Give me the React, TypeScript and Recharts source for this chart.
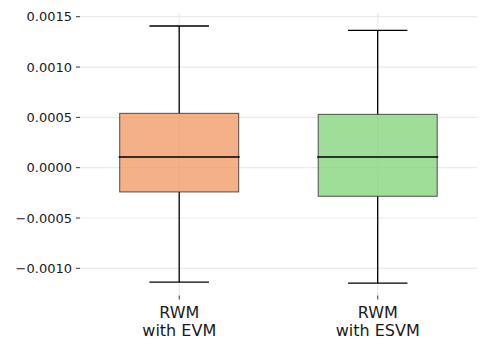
import { ComposedChart, Bar, XAxis, YAxis, CartesianGrid } from 'recharts';

const categories = ['RWM\nwith EVM', 'RWM\nwith ESVM'];
const whiskerLow = [-0.001138, -0.001148];
const quartile1 = [-0.000241, -0.000284];
const medians = [0.000106, 0.000106];
const quartile3 = [0.00054, 0.00053];
const whiskerHigh = [0.001408, 0.001365];
const boxColors = ['#f0975f', '#7ed376'];
const yTicks = [-0.001, -0.0005, 0, 0.0005, 0.001, 0.0015];
const yDomain = [-0.00127, 0.001537];

const data = categories.map((name, i) => ({
  name,
  idx: i,
  range: [whiskerLow[i], whiskerHigh[i]],
  q1: quartile1[i],
  median: medians[i],
  q3: quartile3[i],
}));

const FONT = '"DejaVu Sans", sans-serif';

function fmtY(v: number) {
  return (v < 0 ? '\u2212' : '') + Math.abs(v).toFixed(4);
}

// draws whiskers, box and median from the bar spanning [low, high]
// eslint-disable-next-line @typescript-eslint/no-explicit-any
function BoxShape(props: any) {
  const { x, y, width, height, payload } = props;
  const [lo, hi] = payload.range;
  const top = Math.min(y, y + height);
  const bottom = Math.max(y, y + height);
  const toPx = (v: number) => top + ((hi - v) / (hi - lo)) * (bottom - top);
  const cx = x + width / 2;
  const cap = width / 4;
  const yQ1 = toPx(payload.q1);
  const yQ3 = toPx(payload.q3);
  const yMed = toPx(payload.median);
  return (
    <g>
      <line x1={cx} x2={cx} y1={top} y2={yQ3} stroke="#000" strokeWidth={1.3} />
      <line x1={cx} x2={cx} y1={yQ1} y2={bottom} stroke="#000" strokeWidth={1.3} />
      <line x1={cx - cap} x2={cx + cap} y1={top} y2={top} stroke="#000" strokeWidth={1.3} />
      <line x1={cx - cap} x2={cx + cap} y1={bottom} y2={bottom} stroke="#000" strokeWidth={1.3} />
      <rect
        x={x} y={yQ3} width={width} height={yQ1 - yQ3}
        fill={boxColors[payload.idx]} fillOpacity={0.75}
        stroke="#2a2a2a" strokeOpacity={0.8} strokeWidth={1}
      />
      <line x1={x - 1} x2={x + width + 1} y1={yMed} y2={yMed} stroke="#000" strokeWidth={1.3} />
    </g>
  );
}

// eslint-disable-next-line @typescript-eslint/no-explicit-any
function XTick({ x, y, payload }: any) {
  const lines = String(payload.value).split('\n');
  return (
    <text x={x} y={y} textAnchor="middle" fill="#1a1a1a" fontSize={16} fontFamily={FONT}>
      {lines.map((l, i) => (
        <tspan key={i} x={x} dy={i === 0 ? 16.2 : 18}>{l}</tspan>
      ))}
    </text>
  );
}

// eslint-disable-next-line @typescript-eslint/no-explicit-any
function hGrid({ yAxis, offset }: any) {
  if (yAxis && typeof yAxis.scale === 'function') {
    return yTicks.map((t) => yAxis.scale(t));
  }
  return yTicks.map(
    (t) => offset.top + ((yDomain[1] - t) / (yDomain[1] - yDomain[0])) * offset.height,
  );
}

// eslint-disable-next-line @typescript-eslint/no-explicit-any
function vGrid({ offset }: any) {
  return categories.map((_, i) => offset.left + (offset.width * (i + 0.5)) / categories.length);
}

export default function App() {
  return (
    <div style={{ position: 'absolute', left: 0, top: 0, width: 490, height: 348, background: '#fff' }}>
      <ComposedChart
        width={490} height={348} data={data}
        margin={{ top: 13, right: 13, bottom: 0, left: 0 }}
        barCategoryGap="20%"
      >
        <CartesianGrid
          stroke="#ebebeb" strokeWidth={1.2}
          horizontalCoordinatesGenerator={hGrid}
          verticalCoordinatesGenerator={vGrid}
        />
        <XAxis
          dataKey="name" interval={0} height={52.5}
          axisLine={false} tickSize={4} tickMargin={2}
          tickLine={{ stroke: '#333' }}
          tick={<XTick />}
        />
        <YAxis
          type="number" domain={yDomain} ticks={yTicks} allowDataOverflow
          width={80} axisLine={false} tickSize={4} tickMargin={4}
          tickLine={{ stroke: '#333' }}
          tickFormatter={fmtY}
          tick={{ fontSize: 13, fill: '#1a1a1a', fontFamily: FONT }}
        />
        <Bar dataKey="range" shape={<BoxShape />} isAnimationActive={false} />
      </ComposedChart>
    </div>
  );
}
